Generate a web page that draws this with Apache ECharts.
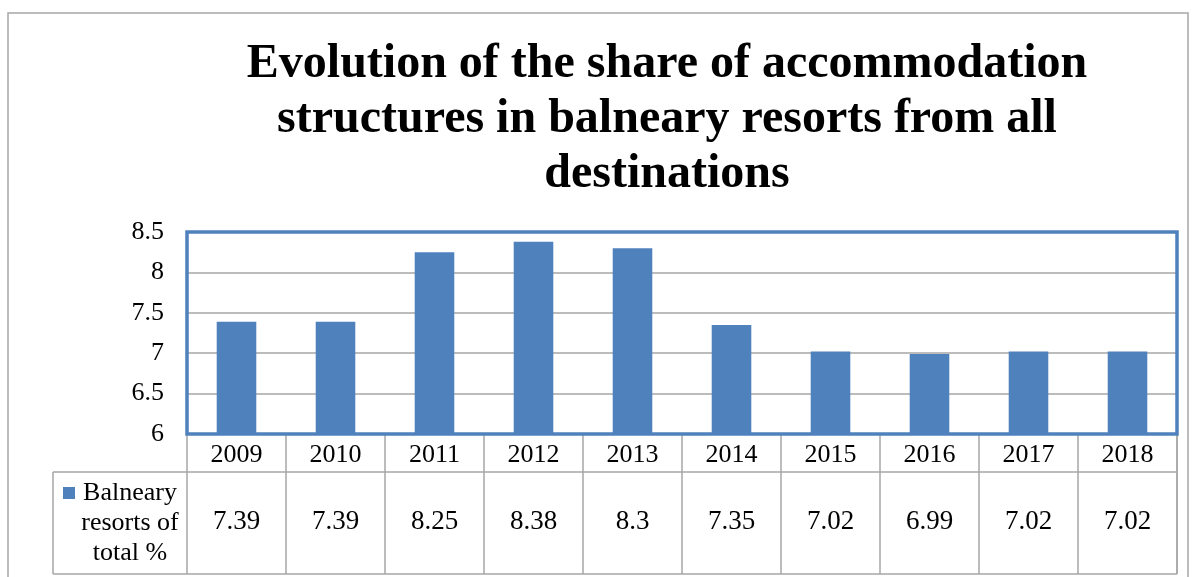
<!DOCTYPE html>
<html>
<head>
<meta charset="utf-8">
<script src="https://cdn.jsdelivr.net/npm/echarts@6/dist/echarts.min.js"></script>
<style>
  html, body { margin: 0; padding: 0; background: #fff; }
  #main { width: 1193px; height: 577px; }
</style>
</head>
<body>
<div id="main"></div>
<script>
// chart data
var years = ['2009', '2010', '2011', '2012', '2013', '2014', '2015', '2016', '2017', '2018'];
var shares = [7.39, 7.39, 8.25, 8.38, 8.3, 7.35, 7.02, 6.99, 7.02, 7.02];
var seriesName = 'Balneary\nresorts of\ntotal %';
var titleText = 'Evolution of the share of accommodation\nstructures in balneary resorts from all\ndestinations';

var serif = '"Liberation Serif", "Times New Roman", serif';
var blue = '#4f81bd';
var gray = '#a6a6a6';

var myChart = echarts.init(document.getElementById('main'));

var option = {
  animation: false,
  backgroundColor: '#fff',
  title: {
    text: titleText,
    left: 662,
    top: 32,
    textAlign: 'center',
    textStyle: {
      fontFamily: serif,
      fontWeight: 'bold',
      fontSize: 48,
      lineHeight: 55,
      color: '#000'
    }
  },
  grid: {
    left: 187,
    right: 16,
    top: 232,
    bottom: 143,
    show: true,
    borderColor: blue,
    borderWidth: 3.5,
    backgroundColor: 'transparent',
    z: 3
  },
  xAxis: [{
    type: 'category',
    data: years,
    axisLine: { show: false },
    axisTick: {
      show: true,
      length: 140,
      lineStyle: { color: gray, width: 1.5 }
    },
    axisLabel: {
      margin: 8,
      fontFamily: serif,
      fontSize: 26,
      color: '#000'
    }
  }, {
    type: 'category',
    position: 'bottom',
    data: shares.map(String),
    axisLine: { show: false },
    axisTick: { show: false },
    axisLabel: {
      margin: 74,
      fontFamily: serif,
      fontSize: 27,
      color: '#000'
    }
  }],
  yAxis: {
    type: 'value',
    min: 6,
    max: 8.5,
    interval: 0.5,
    axisLine: { show: false },
    axisTick: { show: false },
    axisLabel: {
      margin: 23,
      fontFamily: serif,
      fontSize: 26,
      color: '#000'
    },
    splitLine: { lineStyle: { color: gray, width: 1.5 } }
  },
  series: [{
    name: seriesName,
    type: 'bar',
    data: shares,
    barWidth: '40%',
    itemStyle: { color: blue }
  }],
  graphic: [
    // outer frame of the chart
    { type: 'rect', shape: { x: 8, y: 13, width: 1180, height: 600 }, style: { fill: 'none', stroke: gray, lineWidth: 1.5 }, silent: true },
    // data table lines
    { type: 'line', shape: { x1: 53, y1: 472, x2: 1177, y2: 472 }, style: { stroke: gray, lineWidth: 1.5 } },
    { type: 'line', shape: { x1: 53, y1: 574, x2: 1177, y2: 574 }, style: { stroke: gray, lineWidth: 1.5 } },
    { type: 'line', shape: { x1: 53, y1: 472, x2: 53, y2: 574 }, style: { stroke: gray, lineWidth: 1.5 } },
    { type: 'line', shape: { x1: 1177, y1: 434, x2: 1177, y2: 574 }, style: { stroke: gray, lineWidth: 1.5 } },
    // legend key in the table
    { type: 'rect', shape: { x: 63, y: 487, width: 12, height: 12 }, style: { fill: blue } },
    {
      type: 'text',
      x: 130,
      y: 478,
      style: {
        text: seriesName,
        fontFamily: serif,
        fontSize: 26,
        lineHeight: 30,
        align: 'center',
        verticalAlign: 'top',
        fill: '#000'
      }
    }
  ]
};

myChart.setOption(option);
</script>
</body>
</html>
